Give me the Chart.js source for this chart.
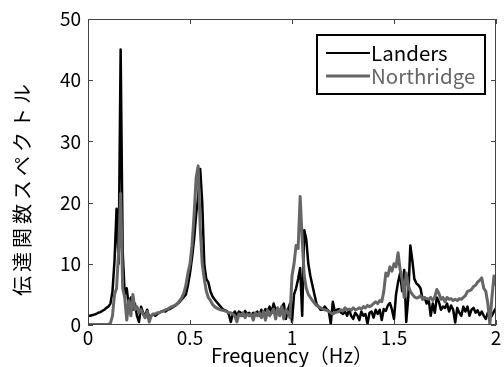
<!DOCTYPE html>
<html>
<head>
<meta charset="utf-8">
<script src="https://cdn.jsdelivr.net/npm/chart.js@4"></script>
<style>
  html, body { margin: 0; padding: 0; background: #fff; }
  #wrap { width: 504px; height: 367px; }
</style>
</head>
<body>
<div id="wrap"><canvas id="main" width="504" height="367"></canvas></div>
<script>
// spectrum sampled every 0.01 Hz from 0 to 2 Hz
const FREQ_STEP = 0.01
const X_TICKS = [0, 0.5, 1, 1.5, 2]
const Y_TICKS = [0, 10, 20, 30, 40, 50]
const Y_TITLE = '伝達関数スペクトル'
const X_TITLE = 'Frequency（Hz）'

const landers = [
  1.5, 1.5, 1.6, 1.7, 1.8, 2.0, 2.1, 2.3, 2.5, 2.8,
  3.0, 3.5, 5.5, 10.5, 19, 10, 45, 12, 5, 6,
  3, 4.5, 2.5, 3.5, 1.5, 0.5, 3, 2, 1.5, 2.5,
  1.2, 1.5, 1.8, 1.5, 1.8, 2.0, 2.2, 2.3, 2.2, 2.5,
  2.6, 2.8, 3.0, 3.2, 3.5, 3.8, 4.2, 4.6, 5.0, 6.5,
  8.5, 11, 14, 18, 21, 25.5, 20, 10, 7.5, 7,
  5.5, 4.7, 4.2, 3.8, 3.4, 3, 2.6, 2.4, 2.3, 1.8,
  0.5, 1.8, 2.2, 1.5, 2.2, 2.0, 1.5, 2.3, 1.8, 2.0,
  1.6, 2.0, 1.8, 2.2, 1.5, 2.5, 1.8, 2.6, 2.2, 3.0,
  2.0, 3.5, 2.4, 2.8, 2.0, 3.0, 3.5, 1.0, 2.5, 3.5,
  0.5, 5, 6, 7.5, 9.3, 1.5, 15.5, 14, 10, 8,
  6.5, 5, 3.5, 3, 2.5, 2.5, 3, 2.6, 2.3, 0.2,
  3.8, 2.2, 2.5, 2.6, 2.0, 1.8, 2.2, 1.5, 2.5, 1.5,
  1.0, 2.0, 1.6, 0.8, 2.2, 1.5, 1.8, 0.2, 2.0, 2.2,
  1.2, 2.5, 1.8, 2.5, 0.8, 2.6, 2.3, 3.2, 3.6, 2.5,
  1.0, 5.0, 7.0, 8.5, 5.5, 9.0, 0.5, 4.5, 13.0, 10.5,
  7.5, 6.8, 6.5, 6.0, 4.2, 4.5, 3.5, 4.2, 1.5, 3.5,
  2.0, 4.5, 3.8, 2.5, 3.0, 2.8, 3.5, 2.2, 3.2, 2.5,
  0.4, 2.8, 2.0, 1.5, 3.0, 2.2, 3.0, 1.5, 2.5, 2.8,
  2.0, 2.4, 1.6, 2.2, 1.5, 1.0, 2.0, 1.2, 1.5, 2.2,
  2.8
]

const northridge = [
  0.1, 0.1, 0.1, 0.1, 0.1, 0.1, 0.1, 0.1, 0.1, 0.1,
  0.1, 0.3, 1.5, 5, 6, 12, 21.5, 6, 4.5, 0.8,
  4, 1.5, 5, 2.5, 3, 2, 2.5, 1.8, 1.2, 2.2,
  0.5, 1.5, 1.8, 1.8, 2.0, 2.0, 2.2, 2.3, 2.5, 2.6,
  2.8, 3.0, 3.1, 3.3, 3.6, 4.0, 4.5, 5.2, 6.5, 8.5,
  10, 13, 18, 24, 26, 16, 10, 7.5, 5.5, 4.5,
  4.0, 3.4, 3.0, 2.8, 2.6, 2.5, 2.4, 2.3, 2.2, 2.0,
  2.0, 1.8, 1.5, 0.5, 1.8, 1.5, 2.0, 1.2, 1.8, 1.5,
  1.8, 0.8, 2.0, 1.5, 2.0, 1.2, 2.2, 0.8, 2.4, 1.5,
  2.0, 2.6, 1.0, 2.8, 1.5, 3.0, 1.0, 2.5, 2.0, 1.2,
  8, 10, 13, 12.5, 21, 14, 8, 6, 5, 4.5,
  4, 3.6, 3.2, 3.0, 2.8, 2.6, 2.5, 2.4, 2.2, 2.0,
  1.8, 2.0, 2.1, 2.2, 2.5, 2.3, 2.8, 2.5, 2.6, 2.4,
  2.8, 2.5, 2.6, 2.8, 2.6, 3.0, 2.8, 3.2, 3.0, 3.2,
  3.5, 3.8, 3.5, 4.0, 3.8, 5.5, 8.5, 8, 9.5, 8.8,
  10, 9.5, 11.8, 9, 7.5, 4.5, 8.5, 6.5, 5.5, 5.0,
  4.6, 4.4, 4.5, 4.8, 4.2, 4.5, 4.3, 4.2, 4.5, 4.0,
  4.6, 5.8, 5.2, 4.2, 4.5, 3.8, 4.5, 4.2, 4.3, 4.0,
  4.2, 4.0, 4.3, 4.2, 4.5, 4.8, 5.5, 5.6, 5.8, 6.3,
  6.5, 7.0, 7.3, 7.7, 6.0, 5.5, 3.5, 0.1, 4.5, 8.0,
  6.5
]

const FONT = '"Noto Sans CJK JP", "Noto Sans", sans-serif'

const toPoints = arr => arr.map((v, i) => ({ x: +(i * FREQ_STEP).toFixed(2), y: v }))

// frame + inward tick marks (matlab style box) and the rotated y title
const framePlugin = {
  id: 'frame',
  afterDraw(chart) {
    const { ctx, chartArea: a, scales } = chart
    ctx.save()
    ctx.strokeStyle = '#444'
    ctx.lineWidth = 1
    ctx.strokeRect(a.left + 0.5, a.top + 0.5, a.right - a.left - 1, a.bottom - a.top - 1)
    const len = 5
    ctx.beginPath()
    X_TICKS.forEach(v => {
      const x = Math.round(scales.x.getPixelForValue(v)) + 0.5
      ctx.moveTo(x, a.bottom); ctx.lineTo(x, a.bottom - len)
      ctx.moveTo(x, a.top); ctx.lineTo(x, a.top + len)
    })
    Y_TICKS.forEach(v => {
      const y = Math.round(scales.y.getPixelForValue(v)) + 0.5
      ctx.moveTo(a.left, y); ctx.lineTo(a.left + len, y)
      ctx.moveTo(a.right, y); ctx.lineTo(a.right - len, y)
    })
    ctx.stroke()

    ctx.translate(22, 188)
    ctx.rotate(-Math.PI / 2)
    ctx.font = '20px ' + FONT
    ctx.letterSpacing = '4px'
    ctx.fillStyle = '#000'
    ctx.textAlign = 'center'
    ctx.textBaseline = 'middle'
    ctx.fillText(Y_TITLE, 0, 0)
    ctx.restore()
  }
}

// boxed legend in upper right
const legendPlugin = {
  id: 'boxLegend',
  afterDraw(chart) {
    const ctx = chart.ctx
    const left = 317, top = 35, w = 168, h = 59
    ctx.save()
    ctx.fillStyle = '#fff'
    ctx.fillRect(left, top, w, h)
    ctx.strokeStyle = '#000'
    ctx.lineWidth = 2
    ctx.strokeRect(left, top, w, h)
    ctx.font = '20.5px ' + FONT
    ctx.textBaseline = 'middle'
    chart.data.datasets.forEach((ds, i) => {
      const y = top + 18 + i * 23
      ctx.strokeStyle = ds.borderColor
      ctx.lineWidth = i === 0 ? 2 : 3
      ctx.beginPath()
      ctx.moveTo(left + 9, y); ctx.lineTo(left + 53, y)
      ctx.stroke()
      ctx.fillStyle = ds.borderColor
      ctx.fillText(ds.label, left + 54, y)
    })
    ctx.restore()
  }
}

new Chart(document.getElementById('main'), {
  type: 'line',
  data: {
    datasets: [{
      label: 'Landers',
      data: toPoints(landers),
      borderColor: '#000000',
      borderWidth: 2.5,
      pointRadius: 0,
      tension: 0,
      borderJoinStyle: 'round',
      order: 1
    }, {
      label: 'Northridge',
      data: toPoints(northridge),
      borderColor: '#666666',
      borderWidth: 3,
      pointRadius: 0,
      tension: 0,
      borderJoinStyle: 'round',
      order: 0
    }]
  },
  options: {
    responsive: false,
    animation: false,
    devicePixelRatio: 1,
    layout: { padding: { left: 0, top: 19, right: 8, bottom: 0 } },
    plugins: { legend: { display: false }, tooltip: { enabled: false } },
    scales: {
      x: {
        type: 'linear',
        min: 0, max: 2,
        afterBuildTicks: s => { s.ticks = X_TICKS.map(v => ({ value: v })) },
        afterFit: s => { s.height = 42 },
        grid: { display: false, drawTicks: false },
        border: { display: false },
        ticks: { color: '#000', font: { family: FONT, size: 19 }, padding: 1, maxRotation: 0, callback: v => String(v) },
        title: { display: true, text: X_TITLE, color: '#000', font: { family: FONT, size: 20 }, padding: 0 }
      },
      y: {
        min: 0, max: 50,
        afterBuildTicks: s => { s.ticks = Y_TICKS.map(v => ({ value: v })) },
        afterFit: s => { s.width = 88 },
        grid: { display: false, drawTicks: false },
        border: { display: false },
        ticks: { color: '#000', font: { family: FONT, size: 19 }, padding: 7 },
        title: { display: false }
      }
    }
  },
  plugins: [framePlugin, legendPlugin]
})
</script>
</body>
</html>
